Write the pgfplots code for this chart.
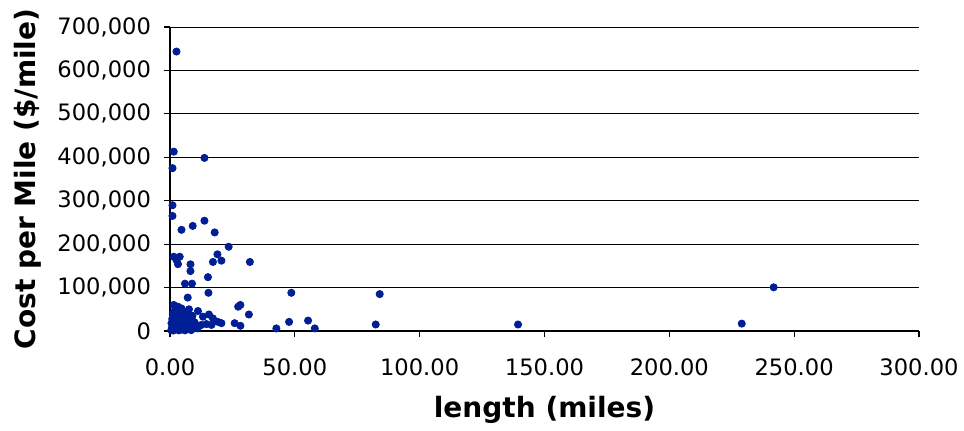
\documentclass[border=0pt]{standalone}
\usepackage{pgfplots}
\pgfplotsset{compat=1.18}
\usepackage{fontspec}
\setmainfont{DejaVu Sans}
\definecolor{ptblue}{RGB}{0,30,150}
\begin{document}
\begin{tikzpicture}
\path[use as bounding box] (-85pt,-49.5pt) rectangle (397pt,165.5pt);
\begin{axis}[
  at={(0,0)}, anchor=south west,
  scale only axis, width=374.5pt, height=152pt,
  xmin=0, xmax=300, ymin=0, ymax=700000,
  xtick={0,50,...,300}, ytick={0,100000,...,700000},
  axis x line*=bottom, axis y line*=left,
  axis line style={black, line width=0.6pt, -},
  tick align=outside, major tick length=3pt,
  tick style={black, line width=0.6pt},
  ymajorgrids, grid style={black, line width=0.5pt},
  scaled y ticks=false, scaled x ticks=false,
  font=\fontsize{11.3pt}{13pt}\selectfont,
  /pgf/number format/assume math mode=true,
  xticklabel style={/pgf/number format/fixed, /pgf/number format/fixed zerofill, /pgf/number format/precision=2, /pgf/number format/1000 sep={}, anchor=center, yshift=-15pt},
  yticklabel style={/pgf/number format/fixed, /pgf/number format/1000 sep={,}, anchor=east, xshift=-3pt},
  xlabel={\fontsize{14pt}{16pt}\selectfont\bfseries length (miles)},
  ylabel={\fontsize{14pt}{16pt}\selectfont\bfseries Cost per Mile (\$/mile)},
  every axis x label/.style={at={(axis description cs:0.5,-0.26)}, anchor=center},
  every axis y label/.style={at={(axis description cs:-0.19,0.5)}, rotate=90, anchor=center},
  clip=false,
]
\addplot[only marks, mark=*, mark size=1.8pt, ptblue, mark options={fill=ptblue, draw=ptblue}] coordinates {
(2.6,643500) (1.5,413000) (13.8,398600) (1.0,375000) (1.0,289600) (1.0,265000)
(4.6,233000) (9.1,242000) (13.8,254000) (17.9,227000) (23.5,194000)
(1.5,171000) (3.9,171000) (2.6,163600) (3.2,154000) (19.0,176600)
(17.2,159000) (20.6,162000) (32.0,159000) (8.2,153600) (8.2,138000)
(15.2,124000) (6.0,109000) (8.8,109000) (15.4,88000) (48.6,88000)
(7.1,77000) (1.5,60000) (3.2,56000) (4.6,52000) (7.6,50000) (11.2,46000)
(27.3,56000) (28.2,60000) (31.6,38000) (15.6,38000) (13.2,33000)
(17.2,29000) (20.6,18000) (25.9,18000) (28.2,12000) (42.6,6000)
(47.7,21000) (55.3,24000) (58.0,6000) (84.0,85000) (82.4,15000)
(139.4,15000) (241.8,100600) (229.0,17000) (12.6,14000) (14.6,16000)
(19.2,21000) (16.6,14000)
(0.5,2000) (0.8,8000) (1.2,15000) (1.5,25000) (1.8,35000) (2.0,5000)
(2.3,12000) (2.6,20000) (3.0,30000) (3.3,42000) (0.6,18000) (0.9,28000)
(1.1,40000) (3.6,8000) (4.0,15000) (4.3,3000) (4.7,24000) (5.0,36000)
(5.4,10000) (5.8,18000) (6.2,4000) (6.6,28000) (7.0,12000) (7.4,20000)
(7.8,6000) (8.3,16000) (8.8,26000) (9.3,10000) (9.8,20000) (10.5,14000)
(11.0,6000) (2.0,48000) (5.5,45000) (6.8,40000) (9.0,35000) (1.3,1000)
(3.5,1500) (6.0,1500) (8.5,2000)
};
\end{axis}
\end{tikzpicture}
\end{document}
